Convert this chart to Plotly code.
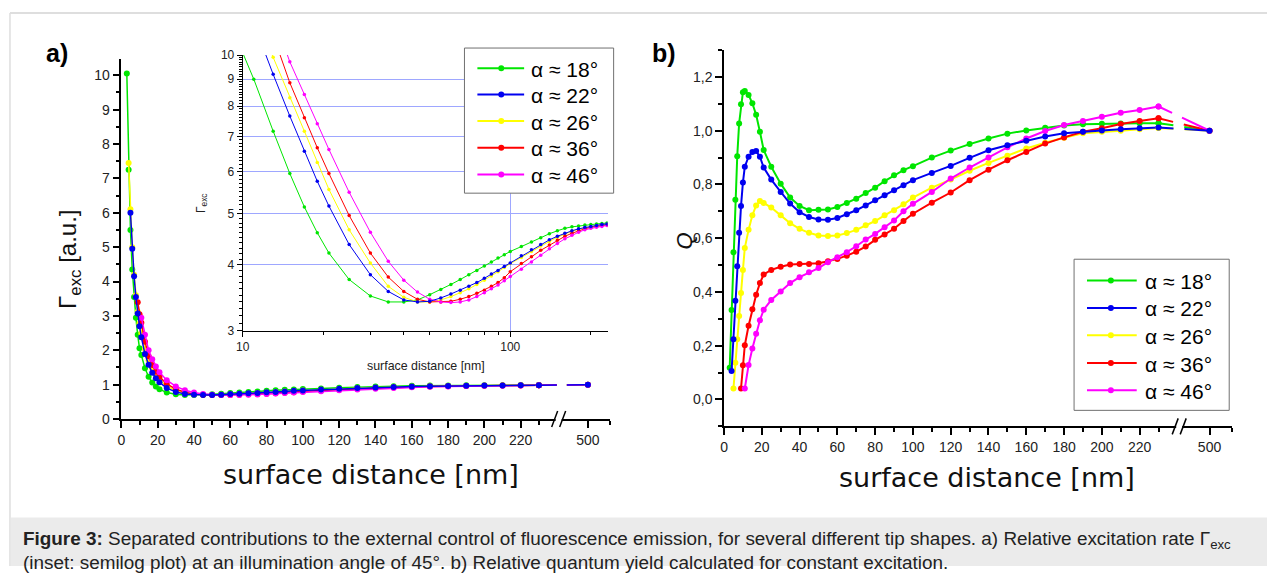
import plotly.graph_objects as go

# ---------------- data ----------------
DIST = [3, 4, 5, 6, 7, 8, 9, 10, 11, 13, 15, 17, 19, 21, 25, 30, 35, 40, 45, 50, 55, 60, 65, 70,
        75, 80, 85, 90, 95, 100, 110, 120, 130, 140, 150, 160, 170, 180, 190, 200, 210, 220, 230]
FAR_DIST = 500          # last sample, drawn after the axis break
FAR_POS = 257           # axis position used for the 500 nm sample
BREAK_POS = 242         # position of the axis break marks
X_MAX = 269

SERIES = ["α ≈ 18°", "α ≈ 22°", "α ≈ 26°", "α ≈ 36°", "α ≈ 46°"]
COLORS = ["#00e600", "#0000f0", "#ffff00", "#ff0000", "#ff00ff"]
DRAW_ORDER = [0, 2, 3, 4, 1]

N = None
# relative excitation rate (main plot a)
GAMMA = [
    [10.05, 7.25, 5.5, 4.35, 3.55, 2.95, 2.45, 2.06, 1.86, 1.48, 1.23, 1.06, 0.95, 0.87, 0.77,
     0.72, 0.70, 0.70, 0.71, 0.72, 0.74, 0.76, 0.77, 0.79, 0.80, 0.82, 0.835, 0.85, 0.86, 0.875,
     0.89, 0.91, 0.93, 0.945, 0.957, 0.967, 0.973, 0.977, 0.98, 0.984, 0.986, 0.988, 0.99],
    [N, N, 6.0, 4.95, 4.15, 3.55, 3.07, 2.7, 2.38, 1.89, 1.58, 1.35, 1.19, 1.07, 0.90,
     0.79, 0.73, 0.71, 0.70, 0.70, 0.71, 0.73, 0.74, 0.75, 0.76, 0.78, 0.79, 0.80, 0.82, 0.83,
     0.86, 0.88, 0.90, 0.92, 0.934, 0.946, 0.957, 0.965, 0.971, 0.975, 0.979, 0.984, 0.986],
    [N, 7.45, 6.1, 5.0, 4.2, 3.6, 3.12, 2.78, 2.5, 2.04, 1.71, 1.48, 1.29, 1.15, 0.96,
     0.83, 0.75, 0.715, 0.70, 0.70, 0.707, 0.72, 0.73, 0.74, 0.757, 0.77, 0.786, 0.80, 0.815, 0.83,
     0.85, 0.874, 0.895, 0.913, 0.93, 0.944, 0.955, 0.963, 0.969, 0.973, 0.977, 0.981, 0.984],
    [N, N, N, N, N, N, 3.4, 3.05, 2.8, 2.25, 1.83, 1.57, 1.375, 1.23, 1.02,
     0.87, 0.78, 0.73, 0.71, 0.70, 0.70, 0.703, 0.71, 0.72, 0.73, 0.74, 0.75, 0.763, 0.78, 0.80,
     0.83, 0.854, 0.88, 0.90, 0.918, 0.934, 0.946, 0.957, 0.965, 0.971, 0.975, 0.979, 0.981],
    [N, N, N, N, N, N, N, N, 2.95, 2.45, 2.0, 1.74, 1.53, 1.365, 1.13,
     0.95, 0.84, 0.77, 0.73, 0.71, 0.70, 0.70, 0.70, 0.707, 0.718, 0.73, 0.742, 0.755, 0.77, 0.784,
     0.81, 0.835, 0.86, 0.885, 0.905, 0.924, 0.938, 0.95, 0.96, 0.967, 0.971, 0.975, 0.98],
]
GAMMA_FAR = [1.0, 1.0, 1.0, 1.0, 1.0]

# excitation rate, inset (semilog)
GAMMA_INSET = [
    [N, N, N, N, N, N, N, 10.1, 9.0, 7.17, 5.96, 5.15, 4.6, 4.21, 3.75,
     3.49, 3.40, 3.40, 3.43, 3.51, 3.59, 3.67, 3.75, 3.83, 3.90, 3.98, 4.05, 4.12, 4.18, 4.24,
     4.33, 4.42, 4.50, 4.58, 4.64, 4.69, 4.72, 4.74, 4.76, 4.77, 4.78, 4.79, 4.80],
    [N, N, N, N, N, N, N, N, 11.5, 9.19, 7.66, 6.57, 5.76, 5.17, 4.37,
     3.83, 3.56, 3.43, 3.40, 3.41, 3.46, 3.52, 3.58, 3.64, 3.70, 3.77, 3.84, 3.90, 3.97, 4.03,
     4.16, 4.27, 4.37, 4.46, 4.53, 4.59, 4.64, 4.68, 4.71, 4.73, 4.75, 4.77, 4.78],
    [N, N, N, N, N, N, N, N, 12.1, 9.9, 8.3, 7.17, 6.25, 5.56, 4.66,
     4.03, 3.64, 3.47, 3.40, 3.40, 3.43, 3.48, 3.54, 3.60, 3.67, 3.74, 3.81, 3.88, 3.95, 4.02,
     4.13, 4.24, 4.34, 4.43, 4.51, 4.58, 4.63, 4.67, 4.70, 4.72, 4.74, 4.76, 4.77],
    [N, N, N, N, N, N, N, N, 13.6, 10.9, 8.86, 7.60, 6.67, 5.96, 4.96,
     4.21, 3.79, 3.56, 3.44, 3.40, 3.40, 3.41, 3.44, 3.48, 3.53, 3.58, 3.64, 3.70, 3.78, 3.88,
     4.02, 4.14, 4.26, 4.36, 4.45, 4.53, 4.59, 4.64, 4.68, 4.71, 4.73, 4.75, 4.76],
    [N, N, N, N, N, N, N, N, 14.3, 11.9, 9.71, 8.42, 7.41, 6.62, 5.49,
     4.61, 4.06, 3.74, 3.55, 3.44, 3.40, 3.39, 3.40, 3.43, 3.48, 3.54, 3.60, 3.66, 3.73, 3.80,
     3.92, 4.05, 4.17, 4.29, 4.39, 4.48, 4.55, 4.61, 4.66, 4.69, 4.71, 4.73, 4.75],
]

# relative quantum yield (plot b)
Q = [
    [0.118, 0.333, 0.548, 0.743, 0.905, 1.027, 1.098, 1.143, 1.148, 1.133, 1.102, 1.059, 0.996, 0.928, 0.866,
     0.803, 0.751, 0.72, 0.704, 0.706, 0.707, 0.716, 0.731, 0.747, 0.768, 0.788, 0.812, 0.834, 0.853, 0.868,
     0.9, 0.926, 0.95, 0.971, 0.989, 1.001, 1.011, 1.019, 1.024, 1.026, 1.027, 1.028, 1.028],
    [N, 0.106, 0.224, 0.367, 0.496, 0.62, 0.72, 0.807, 0.866, 0.903, 0.921, 0.924, 0.903, 0.863, 0.818,
     0.772, 0.729, 0.697, 0.679, 0.67, 0.669, 0.675, 0.689, 0.704, 0.722, 0.741, 0.76, 0.778, 0.797, 0.816,
     0.843, 0.869, 0.899, 0.927, 0.946, 0.963, 0.978, 0.99, 0.996, 1.001, 1.005, 1.009, 1.012],
    [N, N, 0.041, 0.137, 0.224, 0.311, 0.396, 0.482, 0.564, 0.631, 0.685, 0.722, 0.738, 0.731, 0.714,
     0.685, 0.656, 0.635, 0.62, 0.61, 0.608, 0.61, 0.619, 0.631, 0.648, 0.664, 0.685, 0.704, 0.726, 0.751,
     0.788, 0.818, 0.851, 0.88, 0.907, 0.934, 0.955, 0.974, 0.99, 0.996, 1.0, 1.005, 1.01],
    [N, N, N, N, N, N, 0.041, 0.127, 0.202, 0.274, 0.336, 0.39, 0.433, 0.465, 0.482,
     0.494, 0.502, 0.504, 0.504, 0.507, 0.514, 0.523, 0.535, 0.55, 0.569, 0.594, 0.614, 0.635, 0.664, 0.691,
     0.732, 0.77, 0.816, 0.855, 0.89, 0.921, 0.952, 0.975, 0.996, 1.009, 1.025, 1.036, 1.046],
    [N, N, N, N, N, N, N, N, 0.041, 0.128, 0.19, 0.245, 0.295, 0.334, 0.37,
     0.402, 0.433, 0.455, 0.473, 0.489, 0.511, 0.529, 0.548, 0.57, 0.595, 0.616, 0.641, 0.666, 0.7, 0.728,
     0.772, 0.822, 0.863, 0.9, 0.938, 0.971, 0.999, 1.021, 1.036, 1.052, 1.067, 1.077, 1.09],
]
Q_FAR = [1.0, 1.0, 1.0, 1.0, 1.0]

X_TICKS = [0, 20, 40, 60, 80, 100, 120, 140, 160, 180, 200, 220]
X_MINOR = [10, 30, 50, 70, 90, 110, 130, 150, 170, 190, 210, 230, X_MAX]
GAMMA_TICKS = [0, 1, 2, 3, 4, 5, 6, 7, 8, 9, 10]
Q_TICKS = [0.0, 0.2, 0.4, 0.6, 0.8, 1.0, 1.2]
INSET_Y_TICKS = [3, 4, 5, 6, 7, 8, 9, 10]
INSET_X_TICKS = [10, 100]
INSET_X_MINOR = [20, 30, 40, 50, 60, 70, 80, 90, 200]

# ---------------- layout geometry ----------------
# target positions are given in pixels of the 1267x574 screenshot; the helpers
# below compensate the small offset/scale seen between page and screenshot.
W, H = 1267, 574
SHOT_SY, SHOT_OY, SHOT_OX = 0.973, 6.0, 3.0


def px(x):
    return (x - SHOT_OX) / W


def py(y):
    return 1 - ((y - SHOT_OY) / SHOT_SY) / H


XA_DOM = [px(118), px(609)]
YA_DOM = [py(417.7), py(58)]
XB_DOM = [px(724), px(1235)]
YB_DOM = [py(425), py(49)]
XI_DOM = [px(240), px(607)]
YI_DOM = [py(329.3), py(54)]
XA_RANGE = [0, X_MAX]
YA_RANGE = [0, 10.47]
YB_RANGE = [-0.1, 1.3]

FONT = "Liberation Sans, Arial, sans-serif"
TFONT = "DejaVu Sans, Verdana, sans-serif"
TICKC = "#222222"
GRIDC = "#9ea7ff"

fig = go.Figure()

# main plot a
for i in DRAW_ORDER:
    fig.add_trace(go.Scatter(
        x=DIST, y=GAMMA[i], mode="lines+markers", name=SERIES[i], showlegend=False,
        line=dict(color=COLORS[i], width=1.5),
        marker=dict(color=COLORS[i], size=6), xaxis="x", yaxis="y"))
for i in DRAW_ORDER:
    fig.add_trace(go.Scatter(
        x=[DIST[-1], FAR_POS], y=[GAMMA[i][-1], GAMMA_FAR[i]], mode="lines+markers",
        showlegend=False, line=dict(color=COLORS[i], width=1.5, dash="18px,10px"),
        marker=dict(color=COLORS[i], size=6), xaxis="x", yaxis="y"))

# inset
for i in DRAW_ORDER:
    fig.add_trace(go.Scatter(
        x=DIST, y=GAMMA_INSET[i], mode="lines+markers", showlegend=False,
        line=dict(color=COLORS[i], width=1), marker=dict(color=COLORS[i], size=3.5),
        xaxis="x3", yaxis="y3"))

# plot b
for i in DRAW_ORDER:
    fig.add_trace(go.Scatter(
        x=DIST, y=Q[i], mode="lines+markers", name=SERIES[i], showlegend=False,
        line=dict(color=COLORS[i], width=2),
        marker=dict(color=COLORS[i], size=6), xaxis="x2", yaxis="y2"))
for i in DRAW_ORDER:
    fig.add_trace(go.Scatter(
        x=[DIST[-1], FAR_POS], y=[Q[i][-1], Q_FAR[i]], mode="lines+markers",
        showlegend=False, line=dict(color=COLORS[i], width=2, dash="15px,11px,30px"),
        marker=dict(color=COLORS[i], size=6), xaxis="x2", yaxis="y2"))

xt_vals = X_TICKS + [FAR_POS]
xt_text = [str(v) for v in X_TICKS] + [str(FAR_DIST)]

common_x = dict(tickmode="array", tickvals=xt_vals, ticktext=xt_text, range=XA_RANGE,
                showline=True, linecolor="black", linewidth=1.5, ticks="outside",
                ticklen=7, tickwidth=1.5, tickcolor="black", showgrid=False, zeroline=False,
                tickfont=dict(family=FONT, size=14, color=TICKC),
                minor=dict(tickmode="array", tickvals=X_MINOR, ticks="outside", ticklen=4,
                           tickwidth=1.5, tickcolor="black", showgrid=False))

fig.update_layout(
    width=W, height=H, autosize=False, margin=dict(l=0, r=0, t=0, b=0),
    paper_bgcolor="white", plot_bgcolor="rgba(0,0,0,0)", showlegend=False,
    font=dict(family=FONT, color="black"),
    xaxis=dict(domain=XA_DOM, anchor="y", **common_x),
    yaxis=dict(domain=YA_DOM, anchor="x", range=YA_RANGE, tickmode="array",
               tickvals=GAMMA_TICKS, showline=True, linecolor="black", linewidth=1.5,
               ticks="outside", ticklen=7, tickwidth=1.5, tickcolor="black", showgrid=False,
               zeroline=False, tickfont=dict(family=FONT, size=14, color=TICKC),
               minor=dict(dtick=0.5, ticks="outside", ticklen=4, tickwidth=1.5,
                          tickcolor="black", showgrid=False)),
    xaxis2=dict(domain=XB_DOM, anchor="y2", **common_x),
    yaxis2=dict(domain=YB_DOM, anchor="x2", range=YB_RANGE, tickmode="array",
                tickvals=Q_TICKS, ticktext=[f"{v:.1f}".replace(".", ",") for v in Q_TICKS],
                showline=True, linecolor="black", linewidth=1.5, ticks="outside", ticklen=7,
                tickwidth=1.5, tickcolor="black", showgrid=False, zeroline=False,
                tickfont=dict(family=FONT, size=14, color=TICKC),
                minor=dict(dtick=0.1, tick0=0, ticks="outside", ticklen=4, tickwidth=1.5,
                           tickcolor="black", showgrid=False)),
    xaxis3=dict(domain=XI_DOM, anchor="y3", type="log", range=[1, 2.364], tickmode="array",
                tickvals=INSET_X_TICKS, ticktext=[str(v) for v in INSET_X_TICKS],
                showline=True, linecolor="black", linewidth=1, ticks="outside", ticklen=5,
                tickcolor="black", showgrid=True, gridcolor=GRIDC, gridwidth=1,
                zeroline=False, tickfont=dict(family=FONT, size=12, color=TICKC),
                minor=dict(tickmode="array", tickvals=INSET_X_MINOR, ticks="outside",
                           ticklen=3, tickcolor="black", showgrid=False)),
    yaxis3=dict(domain=YI_DOM, anchor="x3", type="log", range=[0.47712, 1.0], tickmode="array",
                tickvals=INSET_Y_TICKS, ticktext=[str(v) for v in INSET_Y_TICKS],
                showline=True, linecolor="black", linewidth=1, ticks="outside", ticklen=5,
                tickcolor="black", showgrid=True, gridcolor=GRIDC, gridwidth=1,
                zeroline=False, tickfont=dict(family=FONT, size=12, color=TICKC),
                minor=dict(tickmode="array",
                           tickvals=[round(3 + 0.1 * k, 1) for k in range(71)],
                           ticks="outside", ticklen=3, tickcolor="black", showgrid=False)),
)


def to_paper(dom, rng, v):
    return dom[0] + (v - rng[0]) / (rng[1] - rng[0]) * (dom[1] - dom[0])


shapes = []
# figure frame and caption background
shapes.append(dict(type="rect", xref="paper", yref="paper", x0=px(7), x1=1, y0=0,
                   y1=py(516), fillcolor="#ebebeb", line=dict(width=0), layer="below"))
shapes.append(dict(type="line", xref="paper", yref="paper", x0=px(6), x1=1, y0=py(12),
                   y1=py(12), line=dict(color="#dedede", width=2), layer="below"))
shapes.append(dict(type="line", xref="paper", yref="paper", x0=px(6), x1=px(6), y0=0,
                   y1=py(12), line=dict(color="#dedede", width=1.5), layer="below"))

# axis break marks
for dom, ydom in ((XA_DOM, YA_DOM), (XB_DOM, YB_DOM)):
    cx = to_paper(dom, XA_RANGE, BREAK_POS)
    cy = ydom[0]
    shapes.append(dict(type="rect", xref="paper", yref="paper", xsizemode="pixel",
                       ysizemode="pixel", xanchor=cx, yanchor=cy, x0=-5, x1=1, y0=-3, y1=3,
                       fillcolor="white", line=dict(width=0)))
    for off in (-9, -1):
        shapes.append(dict(type="line", xref="paper", yref="paper", xsizemode="pixel",
                           ysizemode="pixel", xanchor=cx, yanchor=cy, x0=off, x1=off + 6,
                           y0=-8, y1=8, line=dict(color="black", width=1.5)))

ann = []
# hand-built legends (line + dot + label inside a framed box)
LEGENDS = [
    dict(box=(463, 47, 613, 192), line=(476, 523), dot=500, text=528,
         rows=[67.3, 93.3, 120, 146.7, 173.3]),
    dict(box=(1076, 258, 1232, 409), line=(1089, 1139), dot=1113, text=1145,
         rows=[279.3, 306.7, 334, 361.7, 389]),
]
for lg in LEGENDS:
    bx0, by0, bx1, by1 = lg["box"]
    shapes.append(dict(type="rect", xref="paper", yref="paper", x0=px(bx0), x1=px(bx1),
                       y0=py(by1), y1=py(by0), fillcolor="white",
                       line=dict(color="#707070", width=1)))
    for i, yy in enumerate(lg["rows"]):
        shapes.append(dict(type="line", xref="paper", yref="paper", x0=px(lg["line"][0]),
                           x1=px(lg["line"][1]), y0=py(yy), y1=py(yy),
                           line=dict(color=COLORS[i], width=2)))
        shapes.append(dict(type="circle", xref="paper", yref="paper", xsizemode="pixel",
                           ysizemode="pixel", xanchor=px(lg["dot"]), yanchor=py(yy),
                           x0=-3, x1=3, y0=-3, y1=3, fillcolor=COLORS[i],
                           line=dict(color=COLORS[i], width=0)))
        ann.append(dict(text=SERIES[i], x=px(lg["text"]), y=py(yy + 1), xanchor="left",
                        yanchor="middle", font=dict(family=FONT, size=21, color="black")))
fig.update_layout(shapes=shapes)

ann += [
    dict(text="surface distance [nm]", x=px(369), y=py(473),
         font=dict(family=TFONT, size=27, color="#111")),
    dict(text="surface distance [nm]", x=px(988), y=py(476),
         font=dict(family=TFONT, size=27, color="#111")),
    dict(text="Γ<sub>exc</sub> [a.u.]", x=px(66), y=py(258), textangle=-90,
         font=dict(family=FONT, size=24, color="#111")),
    dict(text="<i>Q</i>", x=px(684), y=py(240), textangle=-90,
         font=dict(family=FONT, size=22, color="#111")),
    dict(text="Γ<sub>exc</sub>", x=px(199), y=py(202), textangle=-90,
         font=dict(family=FONT, size=12, color="#222")),
    dict(text="surface distance [nm]", x=px(424), y=py(365),
         font=dict(family=FONT, size=12.4, color="#222")),
    dict(text="<b>a)</b>", x=px(53), y=py(52), font=dict(family=FONT, size=25, color="black")),
    dict(text="<b>b)</b>", x=px(664), y=py(52), font=dict(family=FONT, size=25, color="black")),
]

caption1 = ("<b>Figure 3:</b> Separated contributions to the external control of fluorescence "
            "emission, for several different tip shapes. a) Relative excitation rate Γ<sub>exc</sub>")
caption2 = ("(inset: semilog plot) at an illumination angle of 45°. b) Relative quantum yield "
            "calculated for constant excitation.")
for txt, yy in ((caption1, 539), (caption2, 561)):
    ann.append(dict(text=txt, x=px(17), y=py(yy), xanchor="left", yanchor="middle",
                    font=dict(family=FONT, size=18.9, color="#222")))
for a in ann:
    a.setdefault("xanchor", "center")
    a.setdefault("yanchor", "middle")
    a.update(xref="paper", yref="paper", showarrow=False)
fig.update_layout(annotations=ann)

fig.write_html("out.html", config={"displayModeBar": False},
               post_script="document.body.style.margin='0px';document.body.style.overflow='hidden';")
